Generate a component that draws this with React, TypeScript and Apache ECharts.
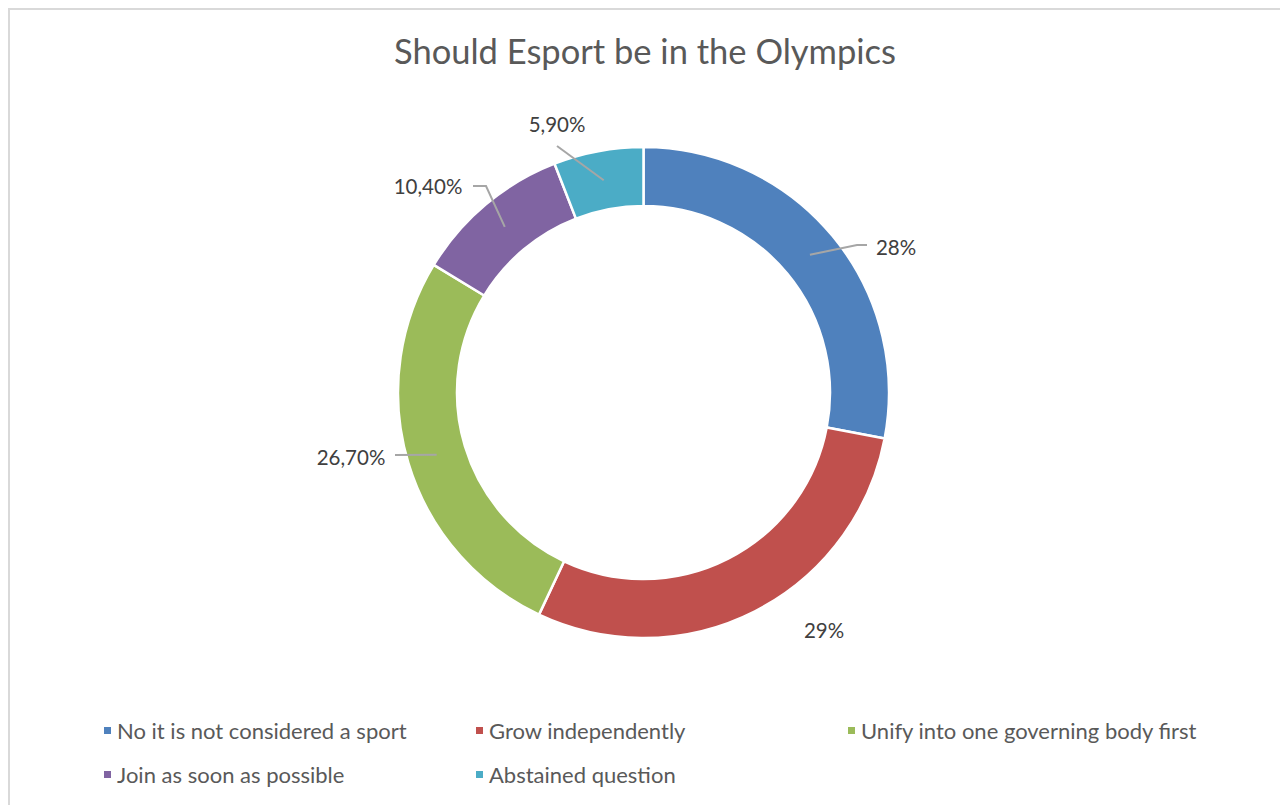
import React, { useEffect, useRef } from "react";
import * as echarts from "echarts";

const categories = [
  "No it is not considered a sport",
  "Grow independently",
  "Unify into one governing body first",
  "Join as soon as possible",
  "Abstained question",
];
const values = [28, 29, 26.7, 10.4, 5.9];
const labelTexts = ["28%", "29%", "26,70%", "10,40%", "5,90%"];
const colors = ["#4F81BD", "#C0504D", "#9BBB59", "#8064A2", "#4BACC6"];
const titleText = "Should Esport be in the Olympics";

// layout (styling, not data)
const CENTER = [633.5, 382.5];
const R_IN = 186.5;
const R_OUT = 245.5;
// label centre offsets from pie centre
const LABEL_OFFSETS = [
  [252.5, -145.5],
  [180.5, 237.5],
  [-292.5, 64.5],
  [-215.5, -206.5],
  [-86.5, -268.5],
];
// [elbow, end] offsets from pie centre for leader lines (null = no line)
const LINE_OFFSETS: (number[][] | null)[] = [
  [[213.5, -147.5], [223.5, -147.5]],
  null,
  [[-248.5, 62.5], [-248.5, 62.5]],
  [[-157.5, -206.5], [-170.5, -206.5]],
  [[-86.5, -246.5], [-86.5, -246.5]],
];

const FONT = "Lato, 'Open Sans', sans-serif";

export default function App() {
  const ref = useRef<HTMLDivElement>(null);
  useEffect(() => {
    if (!ref.current) return;
    const chart = echarts.init(ref.current, undefined, { renderer: "svg" });
    const total = values.reduce((a, b) => a + b, 0);
    const midAngles: number[] = [];
    let acc = 0;
    values.forEach((v) => {
      midAngles.push(((acc + v / 2) / total) * Math.PI * 2);
      acc += v;
    });
    const rMid = (R_IN + R_OUT) / 2;

    chart.setOption({
      animation: false,
      color: colors,
      title: {
        text: titleText,
        left: "center",
        top: 18,
        textStyle: {
          fontFamily: FONT,
          fontSize: 34.5,
          fontWeight: "normal",
          color: "#595959",
        },
      },
      legend: {
        left: 87,
        top: 701.5,
        width: 1110,
        itemWidth: 9,
        itemHeight: 9,
        itemGap: 16,
        icon: "rect",
        textStyle: {
          fontFamily: FONT,
          fontSize: 22,
          color: "#595959",
          width: 341,
          lineHeight: 28,
        },
        data: categories,
      },
      series: [
        {
          type: "pie",
          z: 2,
          center: CENTER,
          radius: [R_IN, R_OUT],
          startAngle: 90,
          clockwise: true,
          itemStyle: { borderColor: "#fff", borderWidth: 2.5 },
          label: { show: false },
          labelLine: { show: false },
          emphasis: { disabled: true },
          data: categories.map((name, i) => ({ name, value: values[i] })),
        },
        {
          type: "pie",
          z: 5,
          silent: true,
          center: CENTER,
          radius: [R_IN, R_OUT],
          startAngle: 90,
          clockwise: true,
          avoidLabelOverlap: false,
          itemStyle: { color: "rgba(0,0,0,0)", borderWidth: 0 },
          emphasis: { disabled: true },
          label: {
            show: true,
            position: "outside",
            fontFamily: FONT,
            fontSize: 20.5,
            color: "#404040",
            formatter: (p: any) => labelTexts[p.dataIndex],
          },
          labelLine: {
            show: true,
            showAbove: true,
            lineStyle: { color: "#a6a6a6", width: 2 },
          },
          labelLayout: (p: any) => {
            const i = p.dataIndex;
            const off = LABEL_OFFSETS[i];
            const res: any = {
              x: CENTER[0] + off[0],
              y: CENTER[1] + off[1],
              align: "center",
              verticalAlign: "middle",
            };
            const lo = LINE_OFFSETS[i];
            if (lo) {
              const a = midAngles[i];
              const start = [
                CENTER[0] + rMid * Math.sin(a),
                CENTER[1] - rMid * Math.cos(a),
              ];
              res.labelLinePoints = [
                start,
                [CENTER[0] + lo[0][0], CENTER[1] + lo[0][1]],
                [CENTER[0] + lo[1][0], CENTER[1] + lo[1][1]],
              ];
            }
            return res;
          },
          data: categories.map((name, i) => ({
            name,
            value: values[i],
            labelLine: { show: LINE_OFFSETS[i] !== null },
          })),
        },
      ],
    });
    return () => chart.dispose();
  }, []);

  return (
    <div
      style={{
        width: 1274,
        height: 830,
        border: "2px solid #d9d9d9",
        boxSizing: "border-box",
        background: "#fff",
      }}
    >
      <div ref={ref} style={{ width: 1270, height: 826 }} />
    </div>
  );
}
